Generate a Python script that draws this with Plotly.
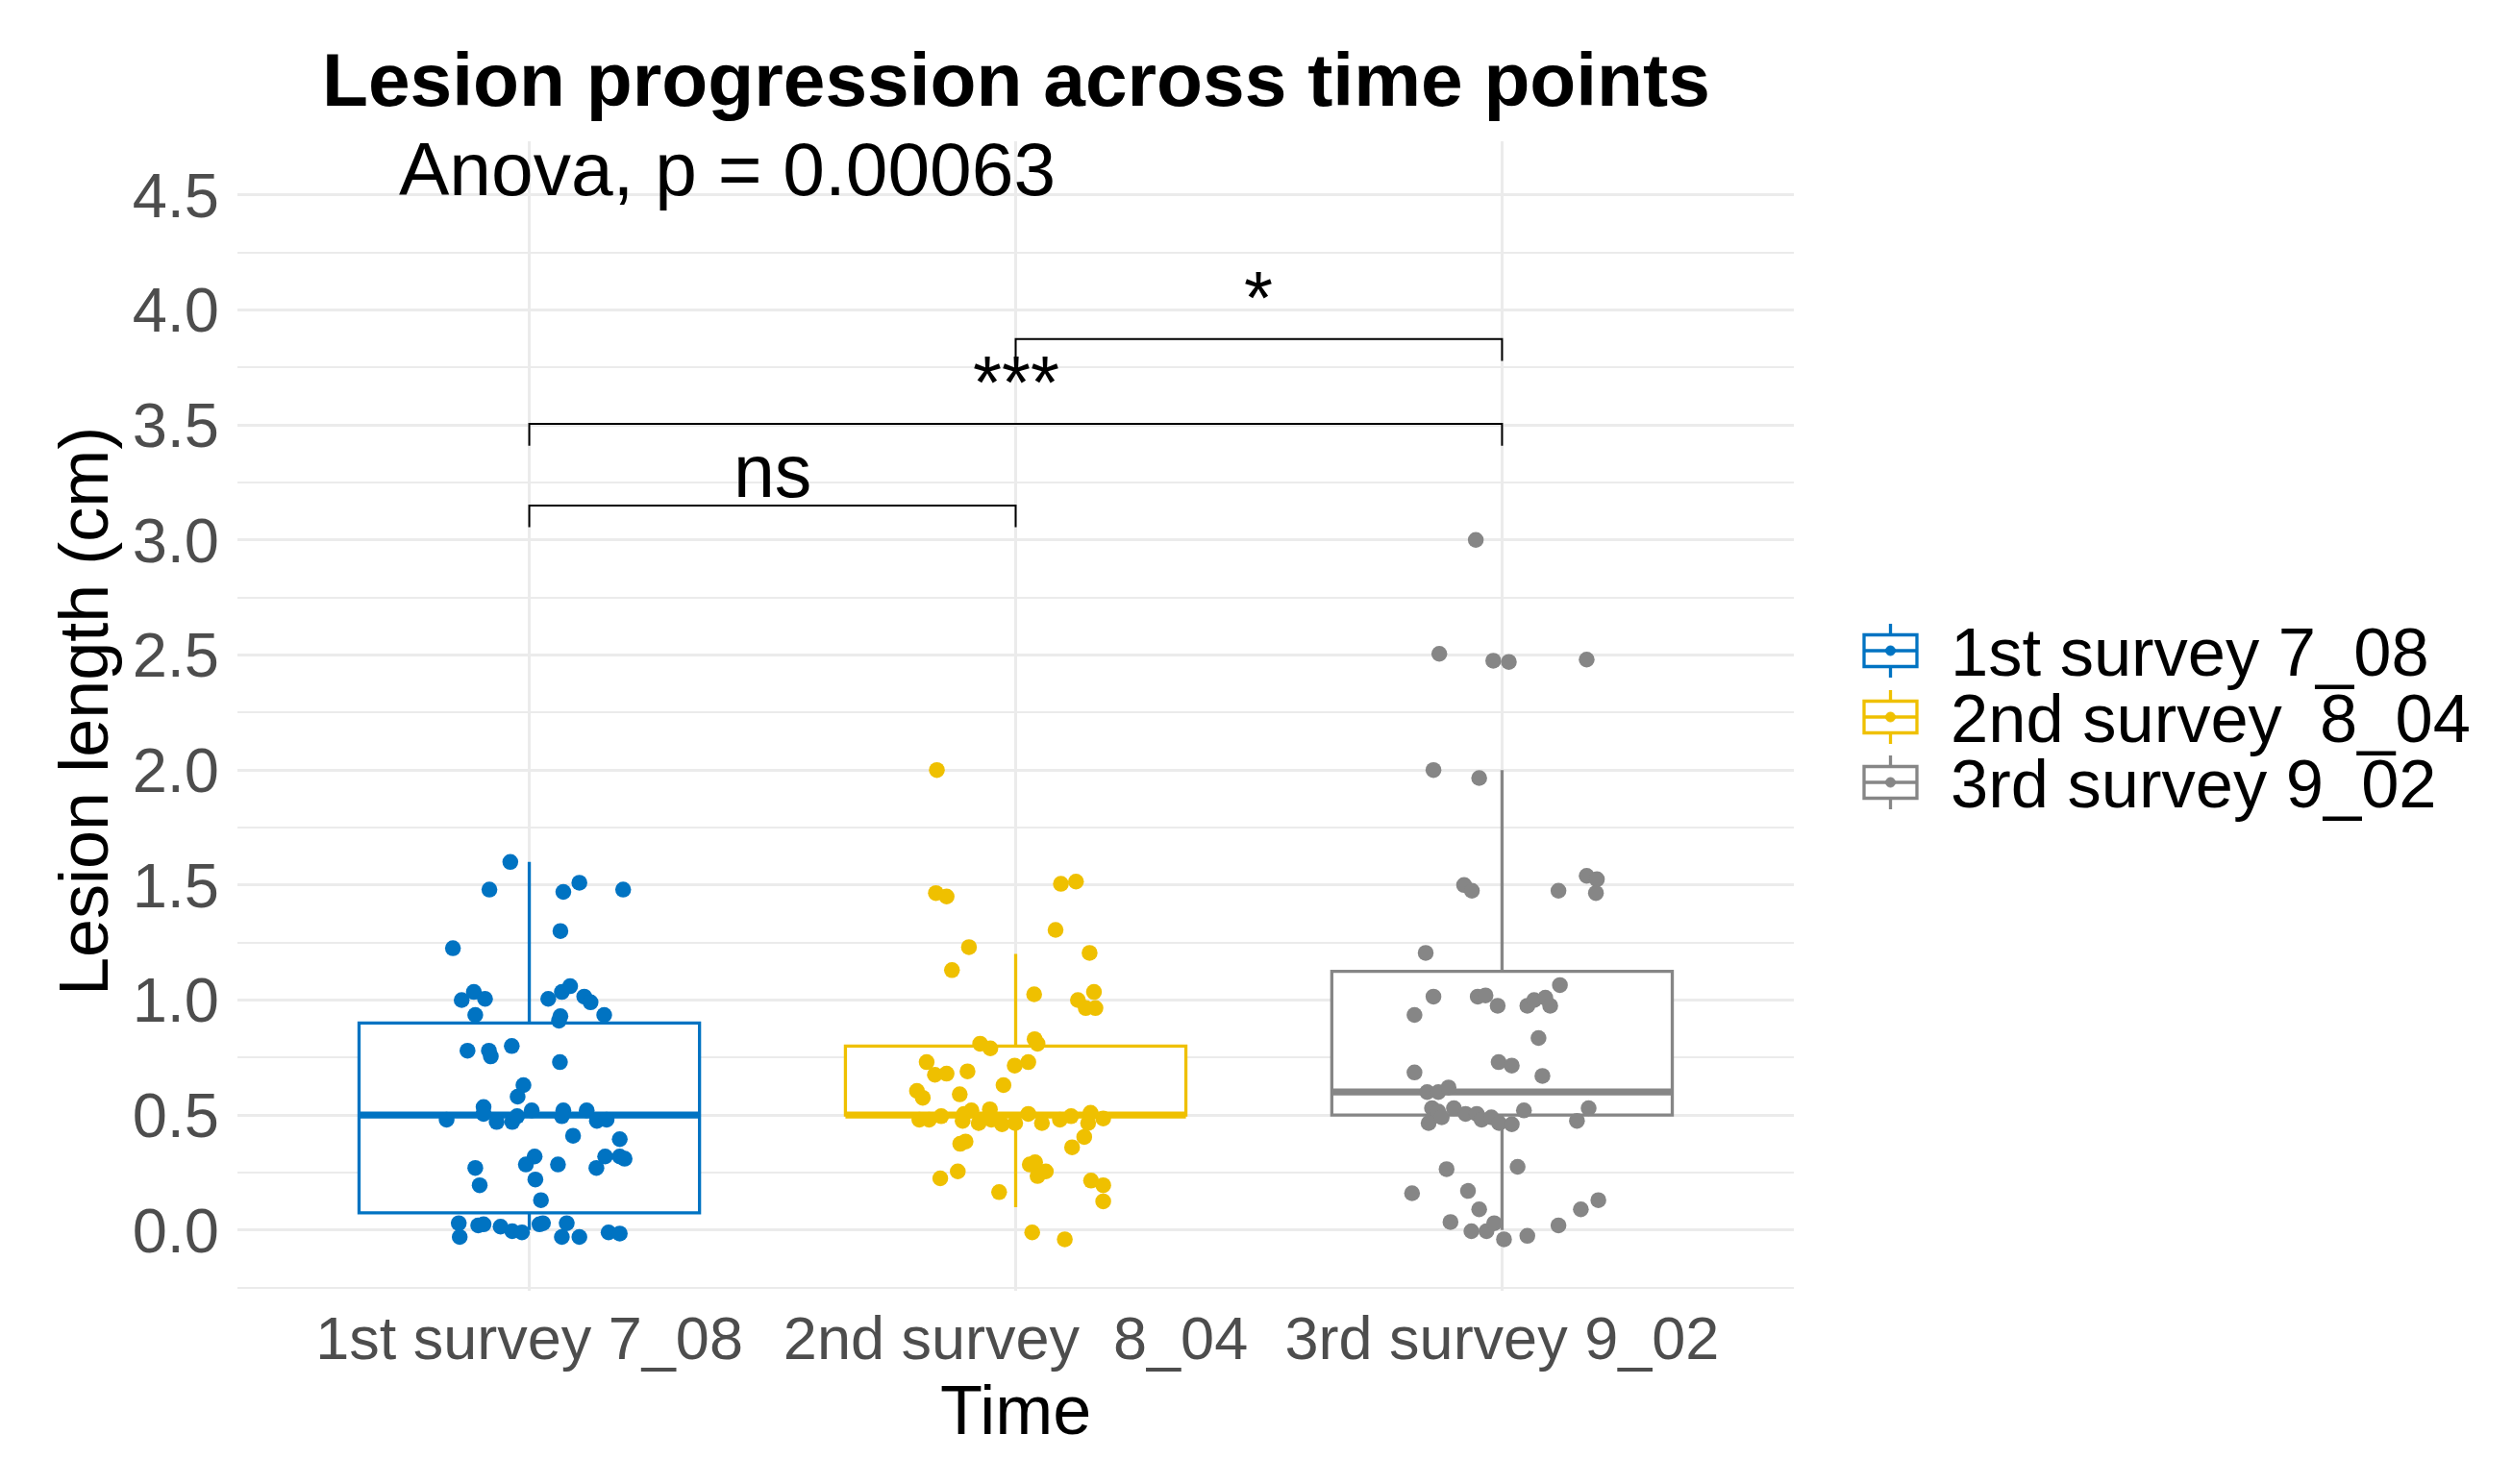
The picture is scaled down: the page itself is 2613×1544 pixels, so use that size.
import plotly.graph_objects as go

# ---------------- data ----------------
categories = ["1st survey 7_08", "2nd survey  8_04", "3rd survey 9_02"]
colors = ["#0073C2", "#EFC000", "#868686"]

# box statistics
lower_fence = [0.0, 0.10, 0.0]
q1 = [0.075, 0.50, 0.50]
median = [0.50, 0.50, 0.60]
q3 = [0.90, 0.80, 1.125]
upper_fence = [1.60, 1.20, 2.00]

# jittered observations: value and horizontal jitter offset
values1 = [1.60, 1.48, 1.47, 1.51, 1.48, 1.30, 1.225, 1.00, 1.035, 1.005, 1.005, 1.035, 1.06, 1.015, 0.99,
           0.935, 0.93, 0.91, 0.935, 0.78, 0.78, 0.755, 0.80, 0.73, 0.63, 0.58, 0.535, 0.48, 0.505, 0.47,
           0.47, 0.495, 0.52, 0.52, 0.495, 0.52, 0.475, 0.48, 0.41, 0.395, 0.32, 0.32, 0.31, 0.27, 0.32,
           0.285, 0.285, 0.27, 0.195, 0.22, 0.13, 0.03, -0.03, 0.02, 0.025, 0.015, -0.005, -0.01, 0.025,
           0.03, 0.03, -0.03, -0.03, -0.01, -0.015]
jitter1 = [-0.039, -0.082, 0.070, 0.103, 0.193, 0.064, -0.157, -0.139, -0.114, -0.091, 0.039, 0.067, 0.084,
           0.113, 0.126, -0.111, 0.064, 0.061, 0.154, -0.127, -0.083, -0.079, -0.036, 0.063, -0.012, -0.024,
           -0.094, -0.170, -0.094, -0.067, -0.035, -0.025, 0.005, 0.070, 0.067, 0.118, 0.139, 0.159, 0.090,
           0.186, 0.186, 0.156, 0.196, 0.138, 0.011, -0.007, 0.059, -0.111, -0.102, 0.0125, 0.024, -0.145,
           -0.143, -0.105, -0.094, -0.059, -0.035, -0.015, 0.021, 0.028, 0.077, 0.067, 0.103, 0.163, 0.186]

values2 = [2.00, 1.465, 1.45, 1.505, 1.515, 1.305, 1.23, 1.205, 1.13, 1.025, 1.035, 1.0, 0.965, 0.965, 0.81,
           0.79, 0.83, 0.81, 0.73, 0.675, 0.68, 0.69, 0.715, 0.73, 0.63, 0.605, 0.575, 0.59, 0.48, 0.48,
           0.495, 0.505, 0.52, 0.475, 0.465, 0.525, 0.48, 0.46, 0.465, 0.505, 0.465, 0.48, 0.495, 0.51,
           0.465, 0.485, 0.375, 0.385, 0.36, 0.405, 0.225, 0.255, 0.165, 0.285, 0.295, 0.235, 0.255, 0.215,
           0.195, 0.125, -0.01, -0.04]
jitter2 = [-0.162, -0.164, -0.142, 0.093, 0.124, 0.082, -0.096, 0.152, -0.131, 0.038, 0.161, 0.128, 0.144,
           0.164, -0.073, -0.052, 0.039, 0.045, -0.183, -0.166, -0.142, -0.099, -0.002, 0.026, -0.025, -0.203,
           -0.191, -0.115, -0.198, -0.178, -0.153, -0.106, -0.091, -0.109, -0.076, -0.053, -0.050, -0.028,
           -0.001, 0.026, 0.054, 0.091, 0.114, 0.154, 0.149, 0.180, -0.114, -0.103, 0.116, 0.141, -0.155,
           -0.119, -0.034, 0.029, 0.040, 0.045, 0.062, 0.155, 0.180, 0.180, 0.034, 0.101]

values3 = [3.00, 2.505, 2.475, 2.47, 2.48, 2.00, 1.965, 1.50, 1.475, 1.475, 1.54, 1.525, 1.465, 1.205, 1.065,
           1.015, 1.015, 1.02, 0.975, 0.975, 1.0, 1.01, 0.975, 0.935, 0.835, 0.73, 0.715, 0.67, 0.685, 0.60,
           0.60, 0.62, 0.53, 0.515, 0.53, 0.465, 0.49, 0.505, 0.505, 0.48, 0.49, 0.465, 0.46, 0.52, 0.475,
           0.53, 0.265, 0.275, 0.16, 0.17, 0.09, 0.035, -0.005, -0.005, 0.03, -0.04, -0.025, 0.02, 0.09, 0.13]
jitter3 = [-0.054, -0.129, -0.018, 0.014, 0.174, -0.141, -0.047, -0.078, -0.062, 0.116, 0.174, 0.195, 0.193,
           -0.157, 0.119, -0.141, -0.050, -0.034, -0.009, 0.052, 0.066, 0.089, 0.099, -0.180, 0.075, -0.007,
           0.020, 0.083, -0.180, -0.154, -0.131, -0.110, -0.144, -0.131, -0.099, -0.151, -0.124, -0.075,
           -0.052, -0.042, -0.022, -0.006, 0.020, 0.045, 0.154, 0.178, -0.114, 0.032, -0.185, -0.070, -0.047,
           -0.106, -0.063, -0.032, -0.016, 0.004, 0.052, 0.116, 0.162, 0.198]

group_values = [values1, values2, values3]
group_jitter = [jitter1, jitter2, jitter3]

# pairwise comparisons
comp_pairs = [(1, 2), (1, 3), (2, 3)]
comp_y = [3.15, 3.505, 3.873]
comp_labels = ["ns", "***", "*"]
anova_label = "Anova, p = 0.00063"

y_ticks = [0.0, 0.5, 1.0, 1.5, 2.0, 2.5, 3.0, 3.5, 4.0, 4.5]

# ---------------- layout constants ----------------
PAGE_OFF = 8                              # default body margin of the html page
W, H = 2613 - 2 * PAGE_OFF, 1544 - 2 * PAGE_OFF
L, R, T, B = 247, 1866, 147, 1343         # plot area in screenshot pixels
FONT = "Liberation Sans, Arial, sans-serif"
GRID = "#EBEBEB"
BOX_W = 0.7
TIP = 0.095


def px_x(p):
    return (p - L) / (R - L)


def px_y(p):
    return (B - p) / (B - T)


fig = go.Figure()

for i, cat in enumerate(categories):
    xc = i + 1
    fig.add_trace(go.Box(
        x=[xc], q1=[q1[i]], median=[median[i]], q3=[q3[i]],
        lowerfence=[lower_fence[i]], upperfence=[upper_fence[i]],
        width=BOX_W, whiskerwidth=0, fillcolor="white",
        line=dict(color=colors[i], width=3.3), boxpoints=False,
        showlegend=False, hoverinfo="skip", name=cat))
    fig.add_trace(go.Scatter(
        x=[xc - BOX_W / 2, xc + BOX_W / 2], y=[median[i], median[i]],
        mode="lines", line=dict(color=colors[i], width=7.3),
        showlegend=False, hoverinfo="skip"))

for i, cat in enumerate(categories):
    xc = i + 1
    fig.add_trace(go.Scatter(
        x=[xc + j for j in group_jitter[i]], y=group_values[i],
        mode="markers", marker=dict(color=colors[i], size=16.5, line=dict(width=0)),
        name=cat, showlegend=False))

annotations = []
for (g1, g2), yb, lab in zip(comp_pairs, comp_y, comp_labels):
    fig.add_trace(go.Scatter(
        x=[g1, g1, g2, g2], y=[yb - TIP, yb, yb, yb - TIP],
        mode="lines", line=dict(color="black", width=2),
        showlegend=False, hoverinfo="skip"))
    dy = 0.15 if lab == "ns" else 0.18
    annotations.append(dict(x=(g1 + g2) / 2, y=yb + dy, xref="x", yref="y",
                            text=lab, showarrow=False, xanchor="center", yanchor="middle",
                            font=dict(family=FONT, size=77, color="black")))

annotations.append(dict(x=0.728, y=4.611, xref="x", yref="y", text=anova_label,
                        showarrow=False, xanchor="left", yanchor="middle",
                        font=dict(family=FONT, size=78.5, color="black")))

# title and axis titles
annotations.append(dict(x=0.5, y=px_y(82.7), xref="paper", yref="paper",
                        text="<b>Lesion progression across time points</b>", showarrow=False,
                        xanchor="center", yanchor="middle",
                        font=dict(family=FONT, size=78.5, color="black")))
annotations.append(dict(x=0.5, y=px_y(1466.8), xref="paper", yref="paper", text="Time",
                        showarrow=False, xanchor="center", yanchor="middle",
                        font=dict(family=FONT, size=72, color="black")))
annotations.append(dict(x=px_x(87), y=px_y(740), xref="paper", yref="paper",
                        text="Lesion length (cm)", textangle=-90, showarrow=False,
                        xanchor="center", yanchor="middle",
                        font=dict(family=FONT, size=72, color="black")))

# manual legend (box-plot key glyphs)
shapes = []
legend_rows = [677, 746, 814]
gx0, gx1 = 1939, 1994
gxc = (gx0 + gx1) / 2
for i, cat in enumerate(categories):
    cy = legend_rows[i]
    c = colors[i]
    shapes.append(dict(type="line", xref="paper", yref="paper", x0=px_x(gxc), x1=px_x(gxc),
                       y0=px_y(cy - 28), y1=px_y(cy + 28), line=dict(color=c, width=3.3)))
    shapes.append(dict(type="rect", xref="paper", yref="paper", x0=px_x(gx0), x1=px_x(gx1),
                       y0=px_y(cy - 16.5), y1=px_y(cy + 16.5), fillcolor="white",
                       line=dict(color=c, width=3.3)))
    shapes.append(dict(type="line", xref="paper", yref="paper", x0=px_x(gx0), x1=px_x(gx1),
                       y0=px_y(cy), y1=px_y(cy), line=dict(color=c, width=3.3)))
    shapes.append(dict(type="circle", xref="paper", yref="paper", x0=px_x(gxc - 5), x1=px_x(gxc + 5),
                       y0=px_y(cy - 5), y1=px_y(cy + 5), fillcolor=c, line=dict(color=c, width=1)))
    annotations.append(dict(x=px_x(2027), y=px_y(cy + 1.5), xref="paper", yref="paper",
                            text=cat.replace("  ", " \u00a0"), showarrow=False,
                            xanchor="left", yanchor="middle",
                            font=dict(family=FONT, size=70.5, color="black")))

fig.update_layout(
    width=W, height=H,
    margin=dict(l=L - PAGE_OFF, r=W - (R - PAGE_OFF), t=T - PAGE_OFF, b=H - (B - PAGE_OFF), pad=0),
    paper_bgcolor="white", plot_bgcolor="white",
    showlegend=False,
    annotations=annotations, shapes=shapes,
    xaxis=dict(range=[0.4, 3.6], tickvals=[1, 2, 3],
               ticktext=[c.replace("  ", " \u00a0") for c in categories],
               showgrid=True, gridcolor=GRID, gridwidth=3.3, zeroline=False, showline=False,
               ticks="", ticklabelstandoff=7,
               tickfont=dict(family=FONT, size=63, color="#4D4D4D")),
    yaxis=dict(range=[-0.264, 4.733], tickvals=y_ticks,
               ticktext=["%.1f" % v for v in y_ticks],
               showgrid=True, gridcolor=GRID, gridwidth=3.3, zeroline=False, showline=False,
               ticks="", ticklabelstandoff=18,
               tickfont=dict(family=FONT, size=65, color="#4D4D4D"),
               minor=dict(tick0=0.25, dtick=0.5, showgrid=True, gridcolor=GRID, gridwidth=2,
                          ticks="")),
)

fig.write_html("out.html")
